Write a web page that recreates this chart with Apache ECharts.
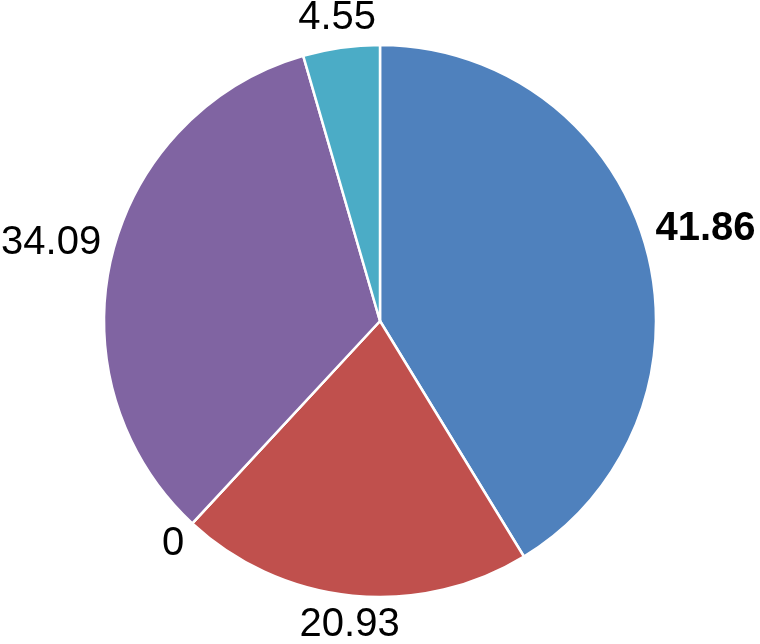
<!DOCTYPE html>
<html>
<head>
<meta charset="utf-8">
<script src="https://cdn.jsdelivr.net/npm/echarts@6/dist/echarts.min.js"></script>
<style>
  html, body { margin: 0; padding: 0; background: #ffffff; }
  #chart { width: 760px; height: 644px; }
</style>
</head>
<body>
<div id="chart"></div>
<script>
// Data (clockwise from 12 o'clock)
const categories = ['A', 'B', 'C', 'D', 'E'];
const values = [41.86, 20.93, 0, 34.09, 4.55];
const labels = ['41.86', '20.93', '0', '34.09', '4.55'];
const boldFlags = [true, false, false, false, false];
const colors = ['#4F81BD', '#C0504D', '#9BBB59', '#8064A2', '#4BACC6'];

// Layout settings
const CX = 380, CY = 321, R = 276, GAP = 10, FONT = 40;

const total = values.reduce((a, b) => a + b, 0);
const cumBefore = values.map((v, i) => values.slice(0, i).reduce((a, b) => a + b, 0));

const chart = echarts.init(document.getElementById('chart'), null, { renderer: 'canvas' });

const option = {
  backgroundColor: '#ffffff',
  animation: false,
  series: [{
    type: 'pie',
    center: [CX, CY],
    radius: [0, R],
    startAngle: 90,
    clockwise: true,
    avoidLabelOverlap: false,
    itemStyle: { borderColor: '#ffffff', borderWidth: 2.5 },
    label: {
      show: true,
      position: 'outside',
      color: '#000000',
      fontFamily: 'Liberation Sans, Arial, Helvetica, sans-serif',
      fontSize: FONT,
      formatter: p => labels[p.dataIndex]
    },
    labelLine: { show: false, length: 10, length2: 0 },
    labelLayout: function (params) {
      const i = params.dataIndex;
      const mid = (cumBefore[i] + values[i] / 2) / total * Math.PI * 2;
      const ux = Math.sin(mid), uy = -Math.cos(mid);
      const w = params.labelRect.width;
      const h = FONT * 0.72;
      const d = R + GAP + (w / 2) * Math.abs(ux) + (h / 2) * Math.abs(uy);
      return { x: CX + d * ux, y: CY + d * uy, align: 'center', verticalAlign: 'middle' };
    },
    data: categories.map((c, i) => ({
      name: c,
      value: values[i],
      itemStyle: { color: colors[i] },
      label: { fontWeight: boldFlags[i] ? 'bold' : 'normal' }
    }))
  }]
};
chart.setOption(option);
</script>
</body>
</html>
